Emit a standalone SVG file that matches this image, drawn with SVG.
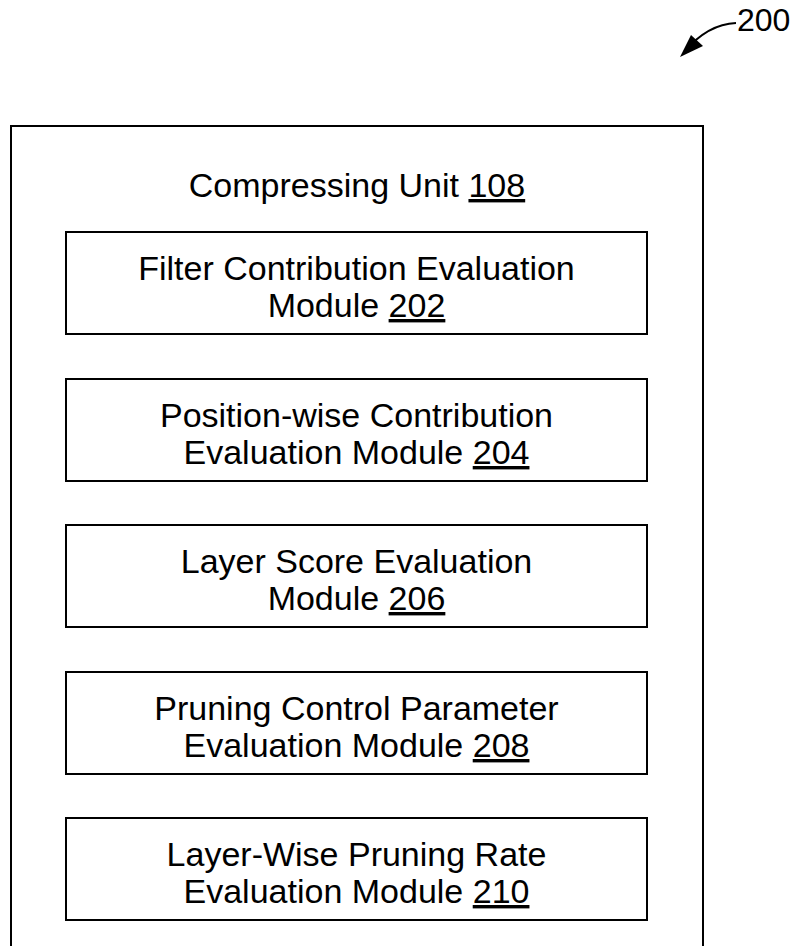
<svg xmlns="http://www.w3.org/2000/svg" width="804" height="946" viewBox="0 0 804 946">
<style>
.box{fill:#fff;stroke:#000;stroke-width:2}
.t{font-family:"Liberation Sans",Arial,sans-serif;font-size:34px;fill:#000;text-anchor:middle}
.u{text-decoration:underline}
</style>
<rect width="804" height="946" fill="#fff"/>
<g id="connectors">
<path d="M736,23 Q708,24 684,52" fill="none" stroke="#000" stroke-width="2"/>
<path d="M680,57 L691,35 L703,46 Z" fill="#000"/>
</g>
<g id="label200"><text x="737" y="31" style="font-family:'Liberation Sans',Arial,sans-serif;font-size:32px">200</text></g>
<g id="unit108">
<path class="box" d="M11,960 V126 H703 V960" fill="none"/>
<text class="t" x="357" y="197">Compressing Unit <tspan class="u">108</tspan></text>
</g>
<g id="m202">
<rect class="box" x="66" y="232" width="581" height="102"/>
<text class="t" x="356.5" y="280">Filter Contribution Evaluation</text>
<text class="t" x="356.5" y="317">Module <tspan class="u">202</tspan></text>
</g>
<g id="m204">
<rect class="box" x="66" y="379" width="581" height="102"/>
<text class="t" x="356.5" y="427">Position-wise Contribution</text>
<text class="t" x="356.5" y="464">Evaluation Module <tspan class="u">204</tspan></text>
</g>
<g id="m206">
<rect class="box" x="66" y="525" width="581" height="102"/>
<text class="t" x="356.5" y="573">Layer Score Evaluation</text>
<text class="t" x="356.5" y="610">Module <tspan class="u">206</tspan></text>
</g>
<g id="m208">
<rect class="box" x="66" y="672" width="581" height="102"/>
<text class="t" x="356.5" y="720">Pruning Control Parameter</text>
<text class="t" x="356.5" y="757">Evaluation Module <tspan class="u">208</tspan></text>
</g>
<g id="m210">
<rect class="box" x="66" y="818" width="581" height="102"/>
<text class="t" x="356.5" y="866">Layer-Wise Pruning Rate</text>
<text class="t" x="356.5" y="903">Evaluation Module <tspan class="u">210</tspan></text>
</g>
</svg>
